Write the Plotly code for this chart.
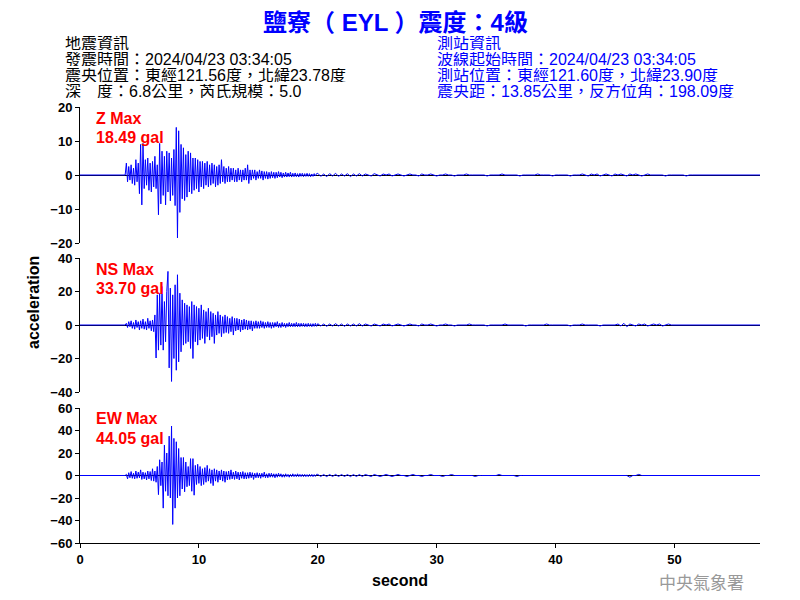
import plotly.graph_objects as go

# ---------------- data ----------------
x_max = 57.2          # record length (s)
act_start = 3.8       # start of the densely sampled strong-motion part (s)
act_dt = 0.1          # sampling of the strong-motion part (s)
tail_dt = 0.25        # sampling of the coda / tail (s)

z_active = [
    0.0, 3.5,
    -2.0, 2.5, -1.5, 3.0, -2.5, 2.0, -3.0, 4.5, -2.0, 3.5,
    -5.5, 9.0, -8.8, 9.3, -4.0, 4.5, -3.0, 5.0, -4.5, 3.5,
    -5.0, 4.0, -3.5, 5.5, -4.0, 3.0, -11.7, 9.3, -8.5, 7.0,
    -6.0, 5.5, -8.8, 7.0, -5.0, 6.5, -7.6, 5.0, -6.0, 7.5,
    -9.0, 14.0, -18.5, 13.0, -11.0, 9.0, -7.0, 8.0, -7.5, 6.0,
    -6.5, 7.0, -5.0, 6.5, -5.5, 5.0, -4.5, 5.0, -4.0, 4.5,
    -5.0, 4.0, -3.5, 4.0, -4.0, 3.5, -3.0, 4.0, -3.5, 3.0,
    -3.0, 3.5, -2.5, 3.0, -3.5, 2.5, -3.0, 3.0, -2.5, 4.5,
    -2.0, 2.5, -2.5, 2.0, -2.0, 2.5, -2.0, 2.0, -1.5, 2.0,
    -2.0, 1.5, -2.0, 2.0, -1.5, 1.5, -2.0, 1.5, -1.5, 2.0,
    -1.5, 3.0, -2.5, 1.5, -1.5, 1.5, -1.0, 1.5, -1.5, 1.0,
    -1.0, 1.5, -1.0, 1.2, -1.5, 1.0, -1.0, 1.0, -1.2, 0.8,
    -1.0, 1.0, -0.8, 0.8, -1.0, 0.8, -0.8, 1.0, -0.6, 0.8,
    -0.8, 0.6, -0.6, 0.8, -0.6, 0.6, -0.5, 0.8, -0.6, 0.5,
    -0.5, 0.6, -0.5, 0.4, -0.6, 0.5, -0.4, 0.5, -0.5, 0.4,
    -0.4, 0.5, -0.4, 0.4, -0.5, 0.3, -0.4, 0.4, -0.3, 0.4,
]
z_tail = [
    0.5, -0.4, 0.3, -0.5, 0.4, -0.3, 0.5, -0.4, 0.3, -0.3, 0.4, -0.5, 0.3, -0.3, 0.4,
    -0.3, 0.3, 0, -0.3, 0.4, 0, -0.3, 0.3, 0, 0.3, -0.3, 0, 0.3, 0,
    -0.3, 0, 0.3, 0, 0, -0.3, 0.3, 0, 0, 0.3, 0, -0.3, 0, 0, 0.3, 0, 0, -0.3, 0, 0,
    0, 0.3, 0, 0, 0, 0, 0, 0, -0.3, 0, 0, 0, 0, 0.3, 0, 0, 0, 0, 0, -0.3,
    0, 0, 0, 0, 0, 0.3, 0, 0, 0, 0, -0.3, 0, 0, 0, 0, 0, -0.3, 0, 0, 0,
    0.3, 0, -0.3, 0.3, 0, 0.3, -0.3, 0, 0.3, 0, -0.3, 0.3, 0, 0.3, 0, -0.3, 0.3, 0, 0.3, 0,
    -0.3, 0, 0.3, 0, 0, 0,
    0, 0, -0.3, 0, 0, 0, 0, 0, 0, -0.3, 0, 0, 0, 0, 0, 0, 0,
    0, 0, 0, 0, 0, 0, 0, 0, 0, 0, 0, 0, 0, 0, 0, 0, 0,
]

ns_active = [
    0.0, 1.0,
    -1.5, 2.0, -1.0, 2.5, -2.0, 1.5, -2.5, 3.0, -1.5, 2.0,
    -3.0, 2.5, -2.0, 3.5, -2.5, 2.0, -3.0, 4.0, -2.0, 2.5,
    -3.5, 3.0, -4.0, 6.0, -19.7, 18.0, -15.0, 19.0, -12.0, 23.0,
    -15.0, 14.0, -10.0, 20.0, 32.0, -25.6, 22.0, -33.7, 18.0, -20.0,
    24.0, -27.0, 30.0, -22.0, 19.0, -16.0, 15.0, -12.0, 13.0, -11.0,
    12.0, -10.0, 11.0, -14.0, 14.0, -20.0, 12.0, -10.0, 11.0, -12.0,
    10.0, -9.0, 12.0, -8.0, 9.0, -11.0, 8.0, -7.0, 10.0, -9.0,
    8.0, -7.0, 7.0, -11.0, 6.0, -6.0, 8.0, -5.0, 6.0, -7.0,
    5.0, -5.0, 6.0, -4.5, 5.0, -5.0, 4.0, -4.0, 5.0, -6.0,
    4.0, -3.5, 4.0, -3.0, 3.5, -4.0, 3.0, -3.0, 3.5, -2.5,
    3.0, -3.0, 2.5, -2.5, 2.5, -3.5, 2.0, -2.0, 2.5, -2.0,
    2.0, -2.0, 2.5, -1.5, 2.0, -2.0, 1.5, -1.5, 2.0, -1.5,
    1.5, -2.0, 1.5, -1.5, 1.5, -1.0, 2.0, -1.5, 1.0, -1.5,
    1.5, -1.0, 1.0, -1.5, 1.0, -1.0, 1.5, -1.0, 1.0, -1.0,
    1.0, -1.0, 1.5, -1.0, 1.0, -1.0, 1.0, -0.8, 1.0, -1.0,
    0.8, -1.0, 1.0, -0.8, 0.8, -1.0, 0.8, -0.8, 1.0, -0.8,
]
ns_tail = [
    0.8, -0.6, 0.6, -0.8, 0.6, -0.6, 0.8, -0.6, 0.6, -0.8, 0.6, -0.6, 0.6, -0.6, 0.8,
    -0.6, 0.6, 0, -0.6, 0.6, 0, -0.6, 0.6, 0, 0.6, -0.6, 0, 0.6, 0,
    -0.6, 0, 0.6, 0, 0, -0.6, 0.6, 0, 0, 0.6, 0, -0.6, 0, 0, 0.6, 0, 0, -0.6, 0, 0,
    0, 0, 0.6, 0, 0, 0, 0, 0, -0.6, 0, 0, 0, 0, 0, 0.6, 0, 0, 0, 0, 0,
    0, -0.6, 0, 0, 0, 0, 0, 0, 0.6, 0, 0, 0, 0, 0, 0, 0, -0.6, 0, 0, 0,
    0.6, 0, 0, 0, 0, 0, -0.6, 0, 0, 0, 0, 0, 0.6, -0.6, 1.0, -1.0, 0.6, 0, -0.6, 0.6,
    0, 0.6, -0.6, 0, 0.6, 0,
    0.6, -0.6, 0, 0.6, 0, 0, 0, 0, 0, 0, 0, 0, 0, 0, 0, 0, 0,
    0, 0, 0, 0, 0, 0, 0, 0, 0, 0, 0, 0, 0, 0, 0, 0, 0,
]

ew_active = [
    0.0, 1.0,
    -3.0, 2.5, -2.0, 3.5, -2.5, 2.0, -3.0, 4.0, -2.5, 3.0,
    -2.0, 5.0, -3.5, 3.0, -3.0, 2.5, -4.0, 4.0, -3.0, 3.5,
    -4.5, 6.0, -5.0, 4.0, -6.0, 8.0, -17.0, 14.0, -9.0, 12.0,
    -29.0, 27.0, -14.0, 20.0, -18.0, 35.0, -20.0, 44.0, -43.5, 33.0,
    -29.0, 30.0, -20.0, 24.0, -18.0, 16.0, -12.0, 16.0, -14.5, 12.0,
    -10.0, 8.0, -9.0, 15.0, -14.0, 15.0, -17.5, 9.0, -8.0, 10.0,
    -7.0, 8.0, -9.0, 6.0, -8.0, 7.0, -6.0, 9.0, -5.0, 6.0,
    -7.0, 5.0, -9.0, 6.0, -5.0, 5.0, -6.0, 4.0, -4.0, 5.0,
    -5.0, 4.0, -6.0, 3.5, -4.0, 4.0, -3.5, 5.0, -3.0, 3.0,
    -3.5, 4.0, -3.0, 3.0, -4.0, 3.0, -2.5, 3.5, -3.0, 2.5,
    -3.0, 2.5, -2.5, 3.0, -2.0, 2.5, -3.5, 2.0, -2.0, 2.5,
    -2.0, 2.0, -2.5, 2.0, -1.5, 3.0, -2.0, 1.5, -2.0, 2.0,
    -1.5, 2.0, -1.5, 1.5, -2.0, 1.5, -1.5, 2.0, -1.0, 1.5,
    -1.5, 1.0, -1.5, 1.5, -1.0, 1.0, -1.5, 1.0, -1.0, 1.5,
    -1.0, 1.0, -1.0, 1.5, -1.0, 1.0, -1.0, 1.0, -1.0, 1.0,
    -1.0, 0.8, -1.0, 1.0, -0.8, 1.0, -1.0, 0.8, -0.8, 1.0,
]
ew_tail = [
    1.0, -0.9, 0.9, -1.0, 0.9, -0.9, 1.0, -0.9, 0.9, -0.9, 0.9, -1.0, 0.9, -0.9, 0.9,
    -0.9, 0.9, 0, -0.9, 0.9, 0, -0.9, 0, 0.9, 0, -0.9, 0, 0.9, 0,
    0, -0.9, 0, 0.9, 0, 0, -0.9, 0, 0, 0.9, 0, 0, 0, -0.9, 0, 0, 0.9, 0, 0, 0,
    0, 0, 0, 0, -0.9, 0, 0, 0, 0, 0, 0, 0, 0.9, 0, 0, 0, 0, 0, -0.9, 0,
    0, 0, 0, 0, 0, 0, 0, 0, 0, 0, 0, 0, 0, 0, 0, 0, 0, 0, 0, 0,
    0, 0, 0, 0, 0, 0, 0, 0, 0, 0, 0, 0, 0, 0, 0, 0, -1.5, 0, 0, 1.0,
    0, 0, 0, 0, 0, 0,
    0, 0, 0, 0, 0, 0, 0, 0, 0, 0, 0, 0, 0, 0, 0, 0, 0,
    0, 0, 0, 0, 0, 0, 0, 0, 0, 0, 0, 0, 0, 0, 0, 0, 0,
]

channels = ["Z", "NS", "EW"]
max_labels = ["18.49 gal", "33.70 gal", "44.05 gal"]
y_ranges = [(-20, 20), (-40, 40), (-60, 60)]
y_ticks = [[-20, -10, 0, 10, 20], [-40, -20, 0, 20, 40], [-60, -40, -20, 0, 20, 40, 60]]
x_ticks = [0, 10, 20, 30, 40, 50]

title_text = "鹽寮（ EYL ）震度：4級"
quake_info = ["地震資訊", "發震時間：2024/04/23 03:34:05",
              "震央位置：東經121.56度，北緯23.78度", "深　度：6.8公里，芮氏規模：5.0"]
station_info = ["測站資訊", "波線起始時間：2024/04/23 03:34:05",
                "測站位置：東經121.60度，北緯23.90度", "震央距：13.85公里，反方位角：198.09度"]

# ---------------- figure ----------------
OFF = 8                      # page body margin offset in the browser
W, H = 800, 600
PL, PR, PT, PB = 80, 760, 107, 543     # plot-area edges in page pixels
ML, MT = PL - OFF, PT - OFF
MR, MB = W - (PR - OFF), H - (PB - OFF)
PW, PH = PR - PL, PB - PT


def px_x(px):
    return (px - PL) / PW


def px_y(py):
    return (PB - py) / PH


def build(active, tail):
    t = [0.0]
    v = [0.0]
    for i, a in enumerate(active):
        t.append(act_start + i * act_dt)
        v.append(a)
    tail_start = act_start + len(active) * act_dt
    for i, a in enumerate(tail):
        tt = tail_start + i * tail_dt
        if tt >= x_max:
            break
        t.append(tt)
        v.append(a)
    t.append(x_max)
    v.append(0.0)
    return t, v


series = [(z_active, z_tail), (ns_active, ns_tail), (ew_active, ew_tail)]
fig = go.Figure()
for k, (act, tl) in enumerate(series):
    t, v = build(act, tl)
    sfx = "" if k == 0 else str(k + 1)
    fig.add_trace(go.Scatter(x=t, y=v, mode="lines", line=dict(color="#0000ff", width=1, shape="linear"),
                             xaxis="x" + sfx, yaxis="y" + sfx, showlegend=False, hoverinfo="skip"))

panels = [(107, 243), (258, 392), (408, 543)]
FONT = "Liberation Sans, Arial, Noto Sans CJK TC, sans-serif"
tickfont = dict(family=FONT, size=13, color="black", weight="bold")

layout = dict(
    width=W, height=H, margin=dict(l=ML, r=MR, t=MT, b=MB),
    paper_bgcolor="white", plot_bgcolor="white", showlegend=False,
)
for k, (top, bot) in enumerate(panels):
    sfx = "" if k == 0 else str(k + 1)
    last = k == 2
    layout["xaxis" + sfx] = dict(
        domain=[0, 1], anchor="y" + sfx, range=[0, x_max], showgrid=False, zeroline=False,
        showline=last, linecolor="black", linewidth=1, ticks="outside" if last else "",
        ticklen=4, tickcolor="black", tickvals=x_ticks, showticklabels=last, tickfont=tickfont,
        fixedrange=True,
    )
    layout["yaxis" + sfx] = dict(
        domain=[px_y(bot), px_y(top)], anchor="x" + sfx, range=list(y_ranges[k]),
        tickvals=y_ticks[k], showgrid=False, zeroline=True, zerolinecolor="black", zerolinewidth=1,
        showline=True, linecolor="black", linewidth=1, ticks="outside", ticklen=4, tickcolor="black",
        tickfont=tickfont, fixedrange=True,
    )
fig.update_layout(**layout)

ann = []
ann.append(dict(text=title_text, x=px_x(395), y=px_y(22), xanchor="center", yanchor="middle",
                height=26, borderpad=0,
                font=dict(family="Liberation Sans, Noto Sans CJK TC", size=24, color="#0000ff", weight="bold")))
for i, line in enumerate(quake_info):
    ann.append(dict(text=line, x=px_x(64), y=px_y(43 + 16 * i), xanchor="left", yanchor="middle",
                    height=14, borderpad=0,
                    font=dict(family="Liberation Sans, Noto Sans CJK TC", size=16, color="black")))
for i, line in enumerate(station_info):
    ann.append(dict(text=line, x=px_x(436), y=px_y(43 + 16 * i), xanchor="left", yanchor="middle",
                    height=14, borderpad=0,
                    font=dict(family="Liberation Sans, Noto Sans CJK TC", size=16, color="#0000ff")))
for k, (top, bot) in enumerate(panels):
    ann.append(dict(text=channels[k] + " Max", x=px_x(94), y=px_y(top + 11), xanchor="left", yanchor="middle",
                    font=dict(family=FONT, size=16, color="#ff0000", weight="bold")))
    ann.append(dict(text=max_labels[k], x=px_x(94), y=px_y(top + 30), xanchor="left", yanchor="middle",
                    font=dict(family=FONT, size=16, color="#ff0000", weight="bold")))
ann.append(dict(text="acceleration", x=px_x(33), y=px_y(303), textangle=-90, xanchor="center", yanchor="middle",
                font=dict(family=FONT, size=16, color="black", weight="bold")))
ann.append(dict(text="second", x=px_x(400), y=px_y(580), xanchor="center", yanchor="middle",
                font=dict(family=FONT, size=16, color="black", weight="bold")))
ann.append(dict(text="中央氣象署", x=px_x(701), y=px_y(581), xanchor="center", yanchor="middle",
                font=dict(family="Noto Sans CJK TC", size=17, color="#999999")))
for a in ann:
    a.update(xref="paper", yref="paper", showarrow=False)
fig.update_layout(annotations=ann)

fig.write_html("out.html")
